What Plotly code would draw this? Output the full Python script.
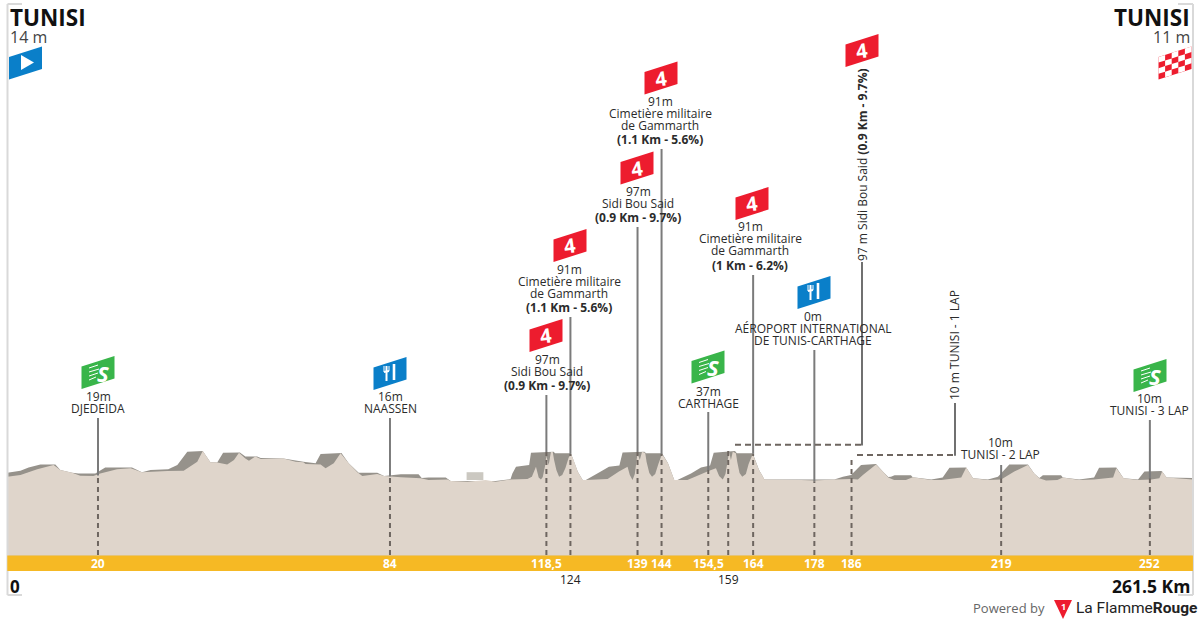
import plotly.graph_objects as go

# ---------- data ----------
surface_km = [0,2.9,6.6,10.2,11.7,14.3,16.1,19,20.5,24.2,27.2,29.7,35.3,38.9,41.9,43.1,44.8,46.3,48.5,50,51.1,52.5,53.3,54.7,55.9,60.9,63.6,65.3,65.8,69.1,70.2,72,73.5,75.3,77.2,78.3,81.6,83.1,86.8,91.2,92.9,97.1,97.8,101.5,105.5,107.7,111,114.7,115.7,116.6,117.2,117.7,118.1,118.6,118.9,119.4,119.9,120.3,120.6,121.1,121.7,122.4,123.1,123.8,124.3,124.9,125.8,126.9,127.6,132.4,134.9,136.8,137.3,137.9,138.4,139,139.5,140,140.7,141,141.6,142.2,142.9,143.6,144.4,145.7,147.1,150,154.8,156.3,157,157.8,158.4,159.2,159.6,160,160.7,161,161.5,162.1,162.9,163.5,164.4,165.8,167,175.1,178,182.4,186.1,187.6,188.7,191.6,193.1,194.3,195.6,198.2,199.7,203.8,206,210.4,211.5,213,216.3,219.2,222.1,225.1,226.5,227.6,229.1,231.6,232.8,236.4,239.7,243.9,244.6,246.2,249.4,252.3,254.1,254.7,255.7,261.5]
surface_m = [15,21,40,54,37,28,18,17,26,40,43,30,34,35,65,101,63,62,56,71,95,76,68,82,74,76,65,63,57,56,43,60,93,60,30,17,24,17,13,10,4,6,1,-2,4,-2,6,7,15,48,12,6,14,51,84,54,97,97,71,37,15,21,44,78,91,71,32,4,4,7,32,48,21,4,24,93,71,98,94,64,27,15,24,57,91,61,4,4,35,43,17,6,24,98,71,98,93,64,27,15,24,57,91,37,6,4,2,6,7,6,21,56,32,12,4,4,13,4,4,12,46,10,4,6,32,54,26,10,2,4,12,4,6,12,43,10,4,6,10,32,12,6]

climb_km = [0,2.9,4.7,7.3,10.6,11.7,14.3,15.7,19.4,21.6,27.5,29.7,31.6,35.5,37.5,39.7,43.1,44.8,46.3,47.6,51.3,52.5,55.1,55.9,60.9,65.3,68,69.1,73.7,75.3,77.5,81.6,83.1,86.8,90.7,91.4,92.9,96.7,97.8,107.7,111,111.4,112.2,115.1,115.5,120.5,120.8,124.3,125.8,126.9,127.6,130.9,132.7,135,135.7,140.5,140.9,144.4,145.7,147.1,147.8,150.8,153,155,155.8,160.5,160.9,164.4,165.8,167,182.4,184.3,186.1,188.3,191.6,193.1,194.3,194.9,195.7,199.3,199.7,203.8,206.3,207.8,211.5,213,216.3,218.5,221,225.1,226.5,227.6,228,228.4,232.4,232.8,236.4,239.7,240.8,244.6,246.2,249.4,250.8,254.5,254.7,255.7,261.5]
climb_m = [28,35,46,56,56,37,28,26,26,46,46,30,37,40,54,98,101,63,62,95,96,82,82,77,76,65,60,91,94,60,28,28,17,23,23,11,12,12,1,1,7,26,48,54,95,98,93,93,32,4,4,32,48,52,96,98,93,93,61,4,4,26,46,52,95,101,93,93,37,6,6,15,21,54,57,32,14,15,20,20,13,6,12,45,46,10,6,15,56,56,26,11,15,20,20,12,6,12,45,46,10,6,32,34,32,12,11]

FINISH_KM = 261.5
tick_km = [20,84.4,118.9,124.2,139,144.3,154.6,159,164.5,178,186.2,219.2,252]
tick_labels = ["20","84","118,5","124","139","144","154,5","159","164","178","186","219","252"]
tick_in_band = [True,True,True,False,True,True,True,False,True,True,True,True,True]
point_m = [19,16,97,91,97,91,37,None,91,0,None,10,10]

# ---------- pixel <-> data scale ----------
PX_KM, X0 = 4.534, 7.3
PX_M, Y0 = 0.3, 477.0
def kx(px): return (px - X0) / PX_KM
def my(py): return 14 + (Y0 - py) / PX_M
BASE = my(555.5)

INK, BEIGE, GREY = "#2b2b2b", "#dfd5cb", "#96928b"
RED, BLUE, GREEN, YEL = "#ed1c2e", "#0a7fc9", "#39b54a", "#f6b924"
FONT = "Open Sans"

fig = go.Figure()
fig.add_trace(go.Scatter(x=[0]+climb_km+[FINISH_KM], y=[BASE]+climb_m+[BASE], fill="toself",
                         fillcolor=GREY, mode="none", hoverinfo="skip"))
fig.add_trace(go.Scatter(x=[0]+surface_km+[FINISH_KM], y=[BASE]+surface_m+[BASE], fill="toself",
                         fillcolor=BEIGE, mode="none", hoverinfo="skip"))

shapes, notes = [], []
def line(p0, p1, color, width=2, dash=None):
    shapes.append(dict(type="line", xref="x", yref="y", x0=kx(p0[0]), y0=my(p0[1]), x1=kx(p1[0]), y1=my(p1[1]),
                       line=dict(color=color, width=width, dash=dash)))
def poly(pts, color):
    d = "M " + " L ".join(f"{kx(a):.4f},{my(b):.2f}" for a, b in pts) + " Z"
    shapes.append(dict(type="path", xref="x", yref="y", path=d, fillcolor=color, line=dict(width=0)))
def text(px, py, s, size=12, color=INK, bold=False, anchor="center", angle=0, family=FONT):
    if bold: s = f"<b>{s}</b>"
    notes.append(dict(x=kx(px), y=my(py), xref="x", yref="y", text=s, showarrow=False, xanchor=anchor,
                      yanchor="middle", textangle=angle, borderpad=0, font=dict(family=family, size=size, color=color)))
def km_px(k): return X0 + PX_KM * k

# frame
FR = "#d9d9d9"
line((7.5, 4), (7.5, 595), FR); line((7.5, 4), (22, 4), FR); line((7.5, 595), (22, 595), FR)
line((1193, 4), (1193, 595), FR); line((1178, 4), (1193, 4), FR); line((1178, 595), (1193, 595), FR)

# pale block
shapes.append(dict(type="rect", xref="x", yref="y", x0=101.3, x1=105, y0=4, y1=30, fillcolor="#cbc8c1", line=dict(width=0)))
# band
shapes.append(dict(type="rect", xref="x", yref="y", x0=0, x1=FINISH_KM, y0=my(571), y1=BASE, fillcolor=YEL, line=dict(width=0)))

# leaders
LEAD_TOP = [418,418,395,317,227,149,412,None,275,350,None,465,420]
DASH = "#6e6660"; SOLID = "#7b7b7b"
for k, el, top in zip(tick_km, point_m, LEAD_TOP):
    x = km_px(k)
    if el is not None:
        s = Y0 - (el - 14) * PX_M
        line((x, 555), (x, s), DASH, dash="5px,4px")
        line((x, s), (x, top), SOLID)
# dashed connectors
x159 = km_px(159); x186 = km_px(186.2)
line((x159, 555), (x159, 448), DASH, dash="5px,4px")
line((735, 444.7), (862, 444.7), DASH, dash="6px,4px"); line((862, 445.5), (862, 262), "#111111", 1.2)
line((x186, 555), (x186, 458), DASH, dash="5px,4px")
line((857, 455), (955, 455), DASH, dash="6px,4px"); line((955, 455.8), (955, 403), "#111111", 1.2)

# band labels
for k, lab, inband in zip(tick_km, tick_labels, tick_in_band):
    if inband: text(km_px(k), 563.5, lab, 12, "#ffffff", True)
    else: text(km_px(k), 579, lab, 12, "#222222")

# flags
def flag(cx, cy, color):
    l, r = cx - 16.5, cx + 16.5
    poly([(l, cy-5.5), (r, cy-16), (r, cy+6.5), (l, cy+17)], color)
def kom(cx, cy):
    flag(cx, cy, RED); text(cx, cy+0.5, "4", 20, "#ffffff", True, angle=-8)
def sprint(cx, cy):
    flag(cx, cy, GREEN); text(cx+5, cy+0.5, "<i>S</i>", 22, "#ffffff", True)
    for i, w in enumerate((9, 10, 9, 7)):
        yy = cy - 5 + i*4
        line((cx-9, yy+1), (cx-9+w, yy-2), "#ffffff", 1)
def feed(cx, cy):
    flag(cx, cy, BLUE)
    line((cx-3.5, cy-7), (cx-3.5, cy+8), "#ffffff", 2)
    line((cx-6, cy-7), (cx-6, cy-1), "#ffffff", 1); line((cx-1, cy-7), (cx-1, cy-2), "#ffffff", 1)
    line((cx-6, cy-1), (cx-1, cy-2), "#ffffff", 2)
    line((cx+4, cy-9), (cx+4, cy+7), "#ffffff", 2.6)

for c in [(546,335),(570,245),(637,167.5),(661,77.5),(752,203),(862,50)]: kom(*c)
for c in [(98,372),(708,366.5),(1150,375)]: sprint(*c)
for c in [(390,373),(814,292)]: feed(*c)

# start / finish flags
flag(25.5, 62.5, BLUE)
poly([(21, 55), (34, 62.5), (21, 70)], "#ffffff")
flag(1175, 62.5, RED)
CW, CH, SL = 6.6, 5.6, 10.5 / 33
for i in range(5):
    for j in range(4):
        if (i + j) % 2 == 0:
            a = 1158.5 + i * CW
            t = 57 + j * CH
            poly([(a, t - SL * i * CW), (a + CW, t - SL * (i + 1) * CW),
                  (a + CW, t + CH - SL * (i + 1) * CW), (a, t + CH - SL * i * CW)], "#ffffff")

# labels
def block(x, ys, lines, bold_last=False):
    for i, (y, s) in enumerate(zip(ys, lines)):
        text(x, y - 1, s, bold=bold_last and i == len(lines)-1)
CM = ["91m", "Cimetière militaire", "de Gammarth"]
block(660, [102,114,126,140], CM+["(1.1 Km - 5.6%)"], True)
block(638, [192,204,218], ["97m","Sidi Bou Said","(0.9 Km - 9.7%)"], True)
block(569, [270,282,294,308], CM+["(1.1 Km - 5.6%)"], True)
block(547, [360,372,386], ["97m","Sidi Bou Said","(0.9 Km - 9.7%)"], True)
block(750, [227,239,251,266], CM+["(1 Km - 6.2%)"], True)
block(813, [317,329,341], ["0m","AÉROPORT INTERNATIONAL","DE TUNIS-CARTHAGE"])
block(708, [392,404], ["37m","CARTHAGE"])
block(98, [397,409], ["19m","DJEDEIDA"])
block(390, [397,409], ["16m","NAASSEN"])
block(1149, [399,411], ["10m","TUNISI - 3 LAP"])
block(1000, [443,455], ["10m","TUNISI - 2 LAP"])
text(862, 165, "97 m Sidi Bou Said <b>(0.9 Km - 9.7%)</b>", angle=-90)
text(954, 345, "10 m TUNISI - 1 LAP", angle=-90)

# titles
text(9, 17, "TUNISI", 22.5, "#111111", True, "left")
text(9, 37, "14 m", 16, "#444444", anchor="left")
text(1191, 17, "TUNISI", 22.5, "#111111", True, "right")
text(1191, 37, "11 m", 16, "#444444", anchor="right")
text(9, 586, "0", 17, "#111111", True, "left")
text(1191, 586, "261.5 Km", 17.5, "#111111", True, "right")

# logo
text(972, 608, "Powered by", 13, "#666666", anchor="left")
poly([(1054, 600), (1072, 600), (1063, 619)], RED)
text(1063, 606, "1", 9, "#ffffff", True)
text(1075, 608, 'La Flamme<b>Rouge</b>', 15.5, "#222222", anchor="left", family="Roboto")

fig.update_layout(
    width=1200, height=625, margin=dict(l=0, r=0, t=0, b=0), autosize=False,
    paper_bgcolor="#ffffff", plot_bgcolor="#ffffff", showlegend=False,
    xaxis=dict(range=[kx(0), kx(1200)], visible=False, fixedrange=True),
    yaxis=dict(range=[my(625), my(0)], visible=False, fixedrange=True),
    shapes=shapes, annotations=notes,
)
fig.write_html("out.html", config=dict(displayModeBar=False),
               post_script="document.body.style.margin='0';document.body.style.overflow='hidden';")
